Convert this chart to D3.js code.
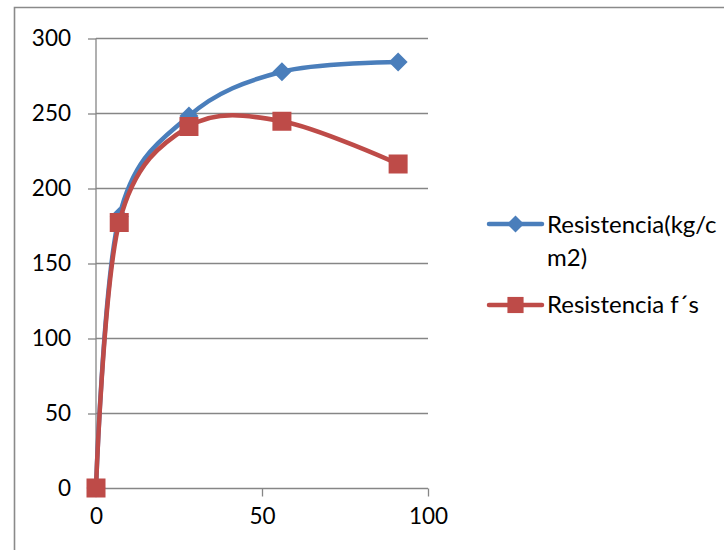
<!DOCTYPE html>
<html>
<head>
<meta charset="utf-8">
<script src="https://cdn.jsdelivr.net/npm/d3@7"></script>
<style>
  html, body { margin: 0; padding: 0; background: #ffffff; }
  svg { display: block; }
  text { font-family: Lato, "Open Sans", sans-serif; fill: #000; }
</style>
</head>
<body>
<svg id="chart" width="724" height="550"></svg>
<script>
// Curing age (days) and measured strength
const ages = [0, 7, 28, 56, 91];
const resistenciaKg = [0, 181, 248, 277.5, 284];
const resistenciaFs = [0, 177, 241, 244.5, 216];

const seriesNames = ["Resistencia(kg/cm2)", "Resistencia f´s"];
const legendLines = [["Resistencia(kg/c", "m2)"], ["Resistencia f´s"]];
const seriesColors = ["#4A7EBB", "#BE4B48"];
const seriesShapes = ["diamond", "square"];

const xTicks = [0, 50, 100];
const yTicks = [0, 50, 100, 150, 200, 250, 300];

const svg = d3.select("#chart");

const x = d3.scaleLinear().domain([0, 100]).range([96, 428]);
const y = d3.scaleLinear().domain([0, 300]).range([488, 38]);

// outer frame (left and top edges)
svg.append("path")
  .attr("d", "M14.5,550 L14.5,7.5 L724,7.5")
  .attr("fill", "none")
  .attr("stroke", "#8a8a8a")
  .attr("stroke-width", 1.6);

// horizontal gridlines
svg.append("g")
  .selectAll("line")
  .data(yTicks.filter(d => d !== 0))
  .join("line")
  .attr("x1", x(0)).attr("x2", x(100))
  .attr("y1", d => Math.round(y(d)) + 0.5).attr("y2", d => Math.round(y(d)) + 0.5)
  .attr("stroke", "#868686").attr("stroke-width", 1.3);

// y axis
const yAxis = d3.axisLeft(y).tickValues(yTicks).tickSize(8).tickPadding(17);
const gy = svg.append("g").attr("transform", `translate(${x(0)},0.5)`).call(yAxis);
gy.select(".domain").attr("stroke", "#868686").attr("stroke-width", 1.3).attr("d", `M0,${y(300)}V${y(0)}`);
gy.selectAll(".tick line").attr("stroke", "#868686").attr("stroke-width", 1.3).attr("x1", -8).attr("x2", 0);
gy.selectAll(".tick text").style("font-family", "Lato, 'Open Sans', sans-serif").attr("font-size", 22.5).attr("fill", "#000");

// x axis
const xAxis = d3.axisBottom(x).tickValues(xTicks).tickSize(8).tickPadding(12);
const gx = svg.append("g").attr("transform", `translate(0,${Math.round(y(0)) + 0.5})`).call(xAxis);
gx.select(".domain").attr("stroke", "#868686").attr("stroke-width", 1.3).attr("d", `M${x(0)},0H${x(100)}`);
gx.selectAll(".tick line").attr("stroke", "#868686").attr("stroke-width", 1.3);
gx.selectAll(".tick text").style("font-family", "Lato, 'Open Sans', sans-serif").attr("font-size", 22.5).attr("fill", "#000");

const line = d3.line()
  .x(d => x(d[0]))
  .y(d => y(d[1]))
  .curve(d3.curveCardinal.tension(0));

const diamondSize = 9.5;   // half diagonal
const squareSize = 19;

function drawMarker(g, shape, cx, cy, color, scale = 1) {
  if (shape === "diamond") {
    const h = diamondSize * scale;
    g.append("path")
      .attr("d", `M${cx},${cy - h}L${cx + h},${cy}L${cx},${cy + h}L${cx - h},${cy}Z`)
      .attr("fill", color);
  } else {
    const s = squareSize * scale;
    g.append("rect")
      .attr("x", cx - s / 2).attr("y", cy - s / 2)
      .attr("width", s).attr("height", s)
      .attr("fill", color);
  }
}

const seriesValues = [resistenciaKg, resistenciaFs];

seriesValues.forEach((vals, i) => {
  const pts = ages.map((a, j) => [a, vals[j]]);
  const g = svg.append("g").attr("class", "series");
  g.append("path")
    .datum(pts)
    .attr("d", line)
    .attr("fill", "none")
    .attr("stroke", seriesColors[i])
    .attr("stroke-width", 4.5)
    .attr("stroke-linejoin", "round")
    .attr("stroke-linecap", "round");
  pts.forEach(p => drawMarker(g, seriesShapes[i], x(p[0]), y(p[1]), seriesColors[i]));
});

// legend
const legendRows = [
  { lineY: 224, textY: [232.5, 266] },
  { lineY: 305, textY: [313] }
];
seriesNames.forEach((name, i) => {
  const g = svg.append("g").attr("class", "legend-item").attr("aria-label", name);
  const ly = legendRows[i].lineY;
  g.append("line")
    .attr("x1", 489).attr("x2", 542)
    .attr("y1", ly).attr("y2", ly)
    .attr("stroke", seriesColors[i]).attr("stroke-width", 4.5)
    .attr("stroke-linecap", "round");
  drawMarker(g, seriesShapes[i], 515.5, ly, seriesColors[i], i === 0 ? 0.9 : 0.85);
  const t = g.append("text").attr("font-size", 24);
  legendLines[i].forEach((ln, k) => {
    t.append("tspan").attr("x", 547).attr("y", legendRows[i].textY[k]).text(ln);
  });
});
</script>
</body>
</html>
